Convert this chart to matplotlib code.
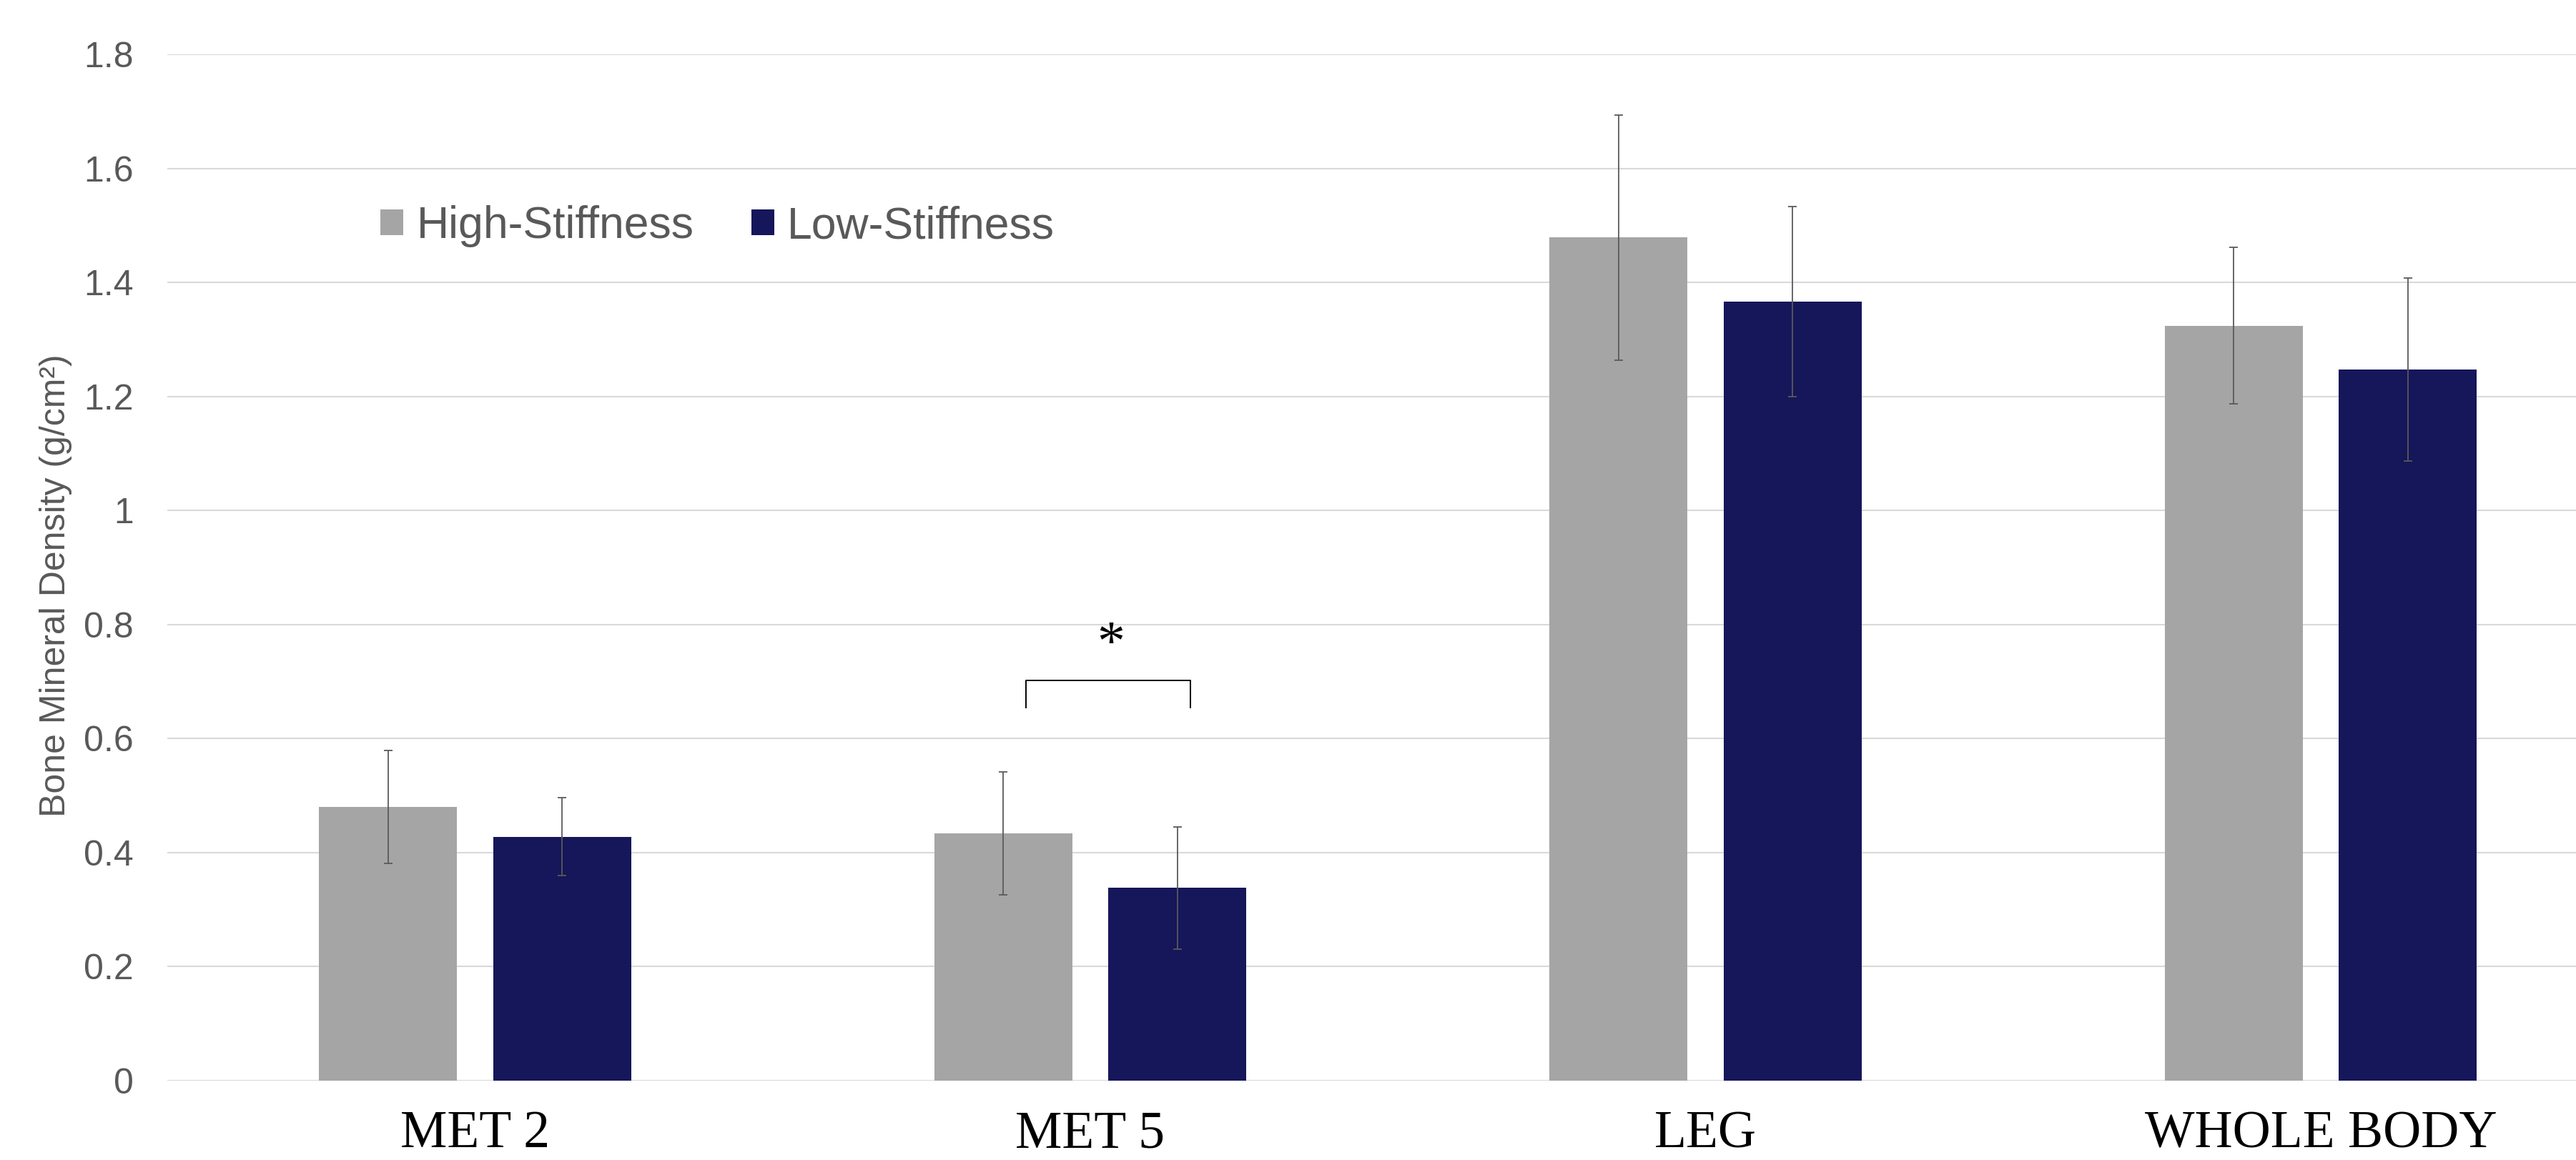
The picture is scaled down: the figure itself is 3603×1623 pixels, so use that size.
import matplotlib.pyplot as plt
import numpy as np

categories = ['MET 2', 'MET 5', 'LEG', 'WHOLE BODY']
high_stiff = [0.480, 0.434, 1.479, 1.324]
high_err = [0.099, 0.108, 0.215, 0.137]
low_stiff = [0.428, 0.338, 1.366, 1.247]
low_err = [0.068, 0.107, 0.167, 0.160]

y_ticks = [0, 0.2, 0.4, 0.6, 0.8, 1.0, 1.2, 1.4, 1.6, 1.8]
y_tick_labels = ['0', '0.2', '0.4', '0.6', '0.8', '1', '1.2', '1.4', '1.6', '1.8']

# скобка значимости над MET 5 (x0, x1, верх, низ) и звёздочка
bracket = [0.896, 1.163, 0.702, 0.654]
star_pos = [1.033, 0.740]

gray = '#a5a5a5'
navy = '#16165a'
text_gray = '#595959'

plt.rcParams['font.family'] = ['Liberation Sans', 'DejaVu Sans']

fig = plt.figure(figsize=(36.03, 16.23), dpi=100)
ax = fig.add_axes([0.065, 0.0684, 0.9553, 0.8848])

x = np.arange(len(categories))
width = 0.224
offset = 0.1415

err_style = dict(ecolor='#5a5a5a', elinewidth=1.3, capsize=4.5, capthick=1.3)
ax.bar(x - offset, high_stiff, width, color=gray, label='High-Stiffness',
       yerr=high_err, error_kw=err_style, zorder=2)
ax.bar(x + offset, low_stiff, width, color=navy, label='Low-Stiffness',
       yerr=low_err, error_kw=err_style, zorder=2)

ax.set_xlim(-0.5, len(categories) - 0.5)
ax.set_ylim(0, 1.8)
ax.set_yticks(y_ticks)
ax.set_yticklabels(y_tick_labels, fontsize=36, color=text_gray)
ax.set_xticks(x)
ax.set_xticklabels(categories, fontsize=53, family=['Liberation Serif', 'DejaVu Serif'],
                   color='black')
ax.tick_params(axis='both', length=0)
ax.tick_params(axis='y', pad=34)
ax.tick_params(axis='x', pad=30)

ax.grid(axis='y', color='#d9d9d9', linewidth=1.5, zorder=0)
ax.set_axisbelow(True)
for s in ax.spines.values():
    s.set_visible(False)

ax.set_ylabel('Bone Mineral Density (g/cm²)', fontsize=36, color=text_gray)
ax.yaxis.set_label_coords(-0.0387, 0.4826)

# скобка и звёздочка
x0, x1, yt, yb = bracket
ax.plot([x0, x0, x1, x1], [yb, yt, yt, yb], color='black', linewidth=1.4,
        solid_joinstyle='round', zorder=3)
ax.text(star_pos[0], star_pos[1], '*', fontsize=56, ha='center', va='baseline',
        family=['Liberation Serif', 'DejaVu Serif'])

leg = ax.legend(loc='center left', bbox_to_anchor=(532 / 3603, 1 - 317 / 1623),
                bbox_transform=fig.transFigure, ncol=2, frameon=False,
                fontsize=45, handlelength=0.51, handleheight=0.51,
                handletextpad=0.3, columnspacing=1.28, borderpad=0, borderaxespad=0)
for t in leg.get_texts():
    t.set_color(text_gray)

fig.savefig('out.png', dpi=100)
